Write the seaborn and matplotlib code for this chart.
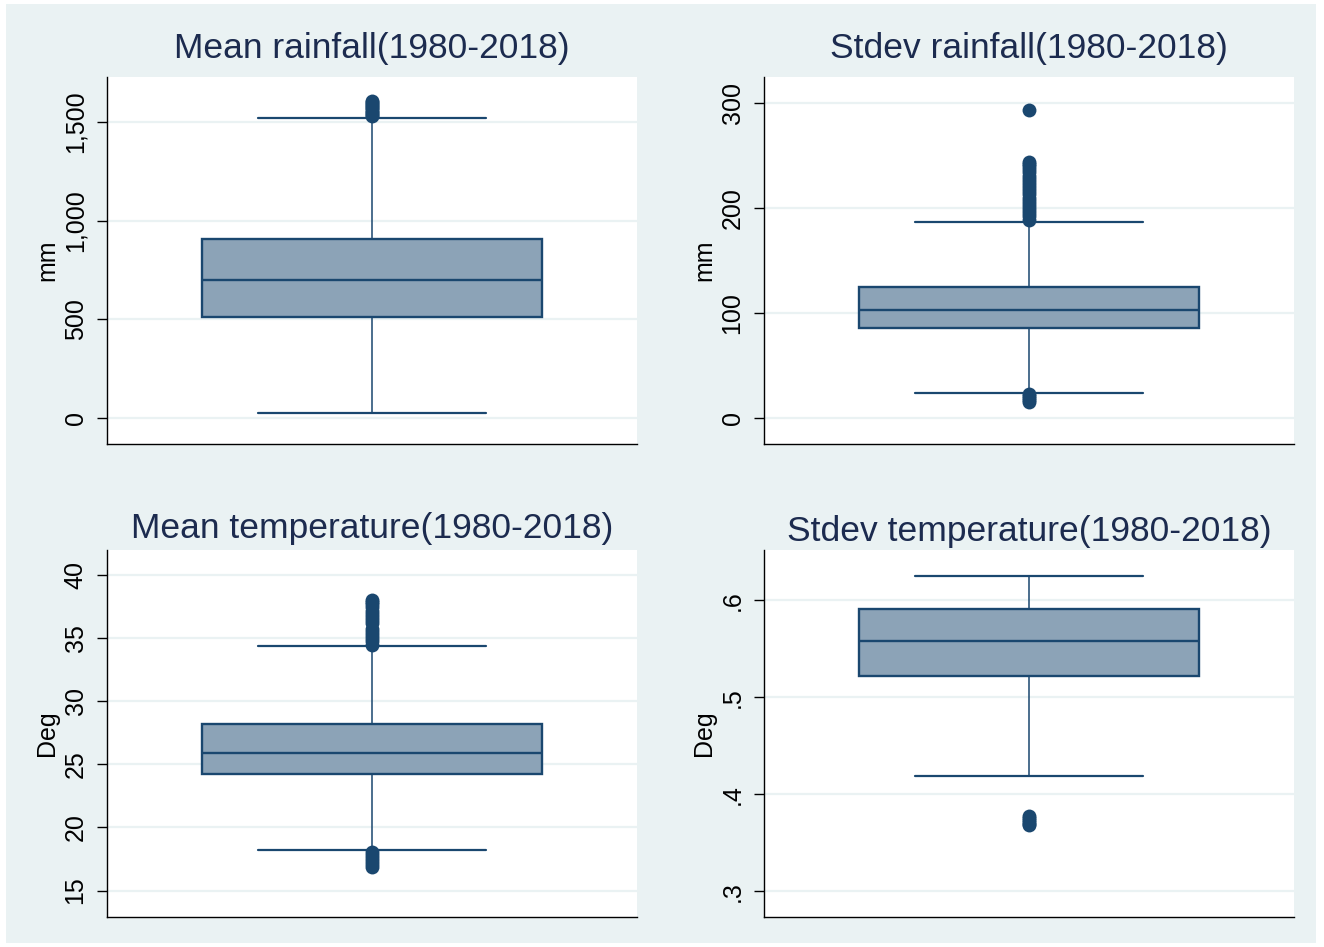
import numpy as np
import pandas as pd
import seaborn as sns
import matplotlib.pyplot as plt
from matplotlib.patches import Rectangle

# box summaries: lower whisker, Q1, median, Q3, upper whisker
rain_mean_box = [27, 513, 699, 908, 1520]
rain_sd_box = [23.7, 86, 103.2, 124.8, 186.5]
temp_mean_box = [18.2, 24.2, 25.93, 28.2, 34.4]
temp_sd_box = [0.419, 0.522, 0.558, 0.5914, 0.625]

# outside values
rain_mean_out = [1528, 1536, 1544, 1552, 1560, 1568, 1576, 1584, 1592,
                 1600, 1606]
rain_sd_out = [14.8, 16.5, 18.5, 20.5, 22.5,
               189, 192, 195, 198, 201, 204, 207, 210, 213, 216, 219, 222,
               225, 228, 231, 234, 237, 240, 242, 244, 294]
temp_mean_out = [16.85, 17.1, 17.35, 17.6, 17.85, 18.05,
                 34.5, 34.75, 35.0, 35.25, 35.5, 35.7,
                 36.2, 36.45, 36.7, 36.95, 37.2, 37.45, 37.7, 37.9, 38.05]
temp_sd_out = [0.368, 0.370, 0.372, 0.374, 0.376, 0.378]

titles = ["Mean rainfall(1980-2018)", "Stdev rainfall(1980-2018)",
          "Mean temperature(1980-2018)", "Stdev temperature(1980-2018)"]
ylabels = ["mm", "mm", "Deg", "Deg"]

rain_mean_ticks = [0, 500, 1000, 1500]
rain_mean_ticklabels = ["0", "500", "1,000", "1,500"]
rain_sd_ticks = [0, 100, 200, 300]
rain_sd_ticklabels = ["0", "100", "200", "300"]
temp_mean_ticks = [15, 20, 25, 30, 35, 40]
temp_mean_ticklabels = ["15", "20", "25", "30", "35", "40"]
temp_sd_ticks = [0.3, 0.4, 0.5, 0.6]
temp_sd_ticklabels = [".3", ".4", ".5", ".6"]

ylims = [(-132, 1727), (-25, 325), (12.9, 42.0), (0.2736, 0.652)]

navy = "#1a476f"
fill = "#8ca3b7"
bg = "#eaf2f3"

sns.set_theme(style="white")
plt.rcParams["font.family"] = ["Liberation Sans", "DejaVu Sans"]

W, H = 1324, 947
fig = plt.figure(figsize=(W / 100, H / 100), dpi=100, facecolor="white")
fig.patches.append(Rectangle((6 / W, 4 / H), 1310 / W, 939 / H,
                             transform=fig.transFigure, facecolor=bg,
                             edgecolor="none", zorder=-10))

# pixel boxes: left, top, right, bottom
boxes_px = [(107, 77, 637, 444), (764, 77, 1294, 444),
            (107, 550, 637, 917), (764, 550, 1294, 917)]
pads = [13.5, 13.5, 8.5, 6.5]

panels = [
    (rain_mean_box, rain_mean_out, rain_mean_ticks, rain_mean_ticklabels),
    (rain_sd_box, rain_sd_out, rain_sd_ticks, rain_sd_ticklabels),
    (temp_mean_box, temp_mean_out, temp_mean_ticks, temp_mean_ticklabels),
    (temp_sd_box, temp_sd_out, temp_sd_ticks, temp_sd_ticklabels),
]

for i, (box, out, ticks, ticklabels) in enumerate(panels):
    l, t, r, b = boxes_px[i]
    ax = fig.add_axes([l / W, 1 - b / H, (r - l) / W, (b - t) / H])
    ax.set_facecolor("white")

    sns.boxplot(y=box, ax=ax, whis=(0, 100), width=0.64, color=fill,
                saturation=1, linecolor=navy, linewidth=1.7,
                whiskerprops={"linewidth": 1.1}, capprops={"linewidth": 1.6},
                showfliers=False)
    # widen whisker caps like the original
    for ln in ax.lines:
        yd = np.asarray(ln.get_ydata(), dtype=float)
        if len(yd) == 2 and yd[0] == yd[1] and yd[0] in (box[0], box[-1]):
            ln.set_xdata([-0.215, 0.215])

    sns.stripplot(y=out, ax=ax, jitter=False, color=navy, size=10,
                  linewidth=0, zorder=5)

    ax.set_xlim(-0.5, 0.5)
    ax.set_ylim(*ylims[i])
    ax.set_yticks(ticks)
    ax.set_yticklabels(ticklabels, rotation=90, va="center", fontsize=18,
                       color="black")
    ax.set_xticks([])
    ax.yaxis.grid(True, color=bg, linewidth=1.6)
    ax.set_axisbelow(True)
    ax.tick_params(axis="y", left=True, length=7, width=1, color="black",
                   pad=7)
    for side in ["top", "right"]:
        ax.spines[side].set_visible(False)
    for side in ["left", "bottom"]:
        ax.spines[side].set_color("black")
        ax.spines[side].set_linewidth(1)
    ax.set_ylabel(ylabels[i], fontsize=18, color="black", labelpad=3)
    ax.set_xlabel("")
    ax.set_title(titles[i], fontsize=25.5, color="#1c2b4f", pad=pads[i])

fig.savefig("out.png", dpi=100, facecolor="white")
